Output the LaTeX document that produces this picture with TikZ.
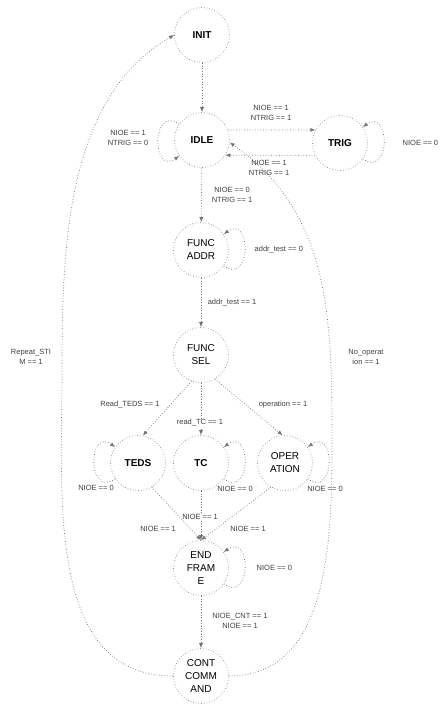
\documentclass[tikz,border=0pt]{standalone}
\usepackage{fontspec}
\setmainfont{Liberation Sans}
\usetikzlibrary{arrows.meta}

\begin{document}
\begin{tikzpicture}[x=1pt,y=1pt,
  state/.style={circle,draw=black!45,dotted,line width=0.7pt,minimum size=55pt,inner sep=0pt,align=center,font=\fontsize{10}{13}\selectfont},
  trans/.style={draw=black!55,dotted,line width=0.7pt,-{Latex[length=5pt,width=4pt]}},
  selfloop/.style={loop,looseness=1,min distance=34pt},
  lbl/.style={align=center,inner sep=0.5pt,text=black!75,font=\fontsize{7.5}{10}\selectfont}]
  \useasboundingbox (0,0) rectangle (441,-704);
  % states
  \node[state] (init) at (202,-35) {\textbf{INIT}};
  \node[state] (idle) at (202,-140) {\textbf{IDLE}};
  \node[state] (trig) at (340,-143) {\textbf{TRIG}};
  \node[state] (addr) at (201,-250) {FUNC\\ADDR};
  \node[state] (fsel) at (201,-355) {FUNC\\SEL};
  \node[state] (teds) at (138,-463) {\textbf{TEDS}};
  \node[state] (tc) at (201,-463) {\textbf{TC}};
  \node[state] (oper) at (285,-463) {OPER\\ATION};
  \node[state] (endf) at (201,-568) {END\\FRAM\\E};
  \node[state] (cont) at (201,-676) {CONT\\COMM\\AND};
  \coordinate (lbend) at (62,-370);
  \coordinate (rbend) at (332,-440);
  % transitions
  \draw[trans] (init) -- (idle);
  \draw[trans] (idle.21) -- (trig.152);
  \draw[trans] (trig.206) -- (idle.-33);
  \path (idle) edge[trans,selfloop,out=145,in=-145] (idle);
  \path (trig) edge[trans,selfloop,out=-35,in=35] (trig);
  \draw[trans] (idle) -- (addr);
  \path (addr) edge[trans,selfloop,out=-35,in=35] (addr);
  \draw[trans] (addr) -- (fsel);
  \draw[trans] (fsel.250) -- (teds.80);
  \draw[trans] (fsel) -- (tc);
  \draw[trans] (fsel.300) -- (oper.95);
  \path (teds) edge[trans,selfloop,out=-145,in=145] (teds);
  \path (tc) edge[trans,selfloop,out=-35,in=35] (tc);
  \path (oper) edge[trans,selfloop,out=-35,in=35] (oper);
  \draw[trans] (teds.-60) -- (endf.north);
  \draw[trans] (tc) -- (endf);
  \draw[trans] (oper.-120) -- (endf.north);
  \path (endf) edge[trans,selfloop,out=-35,in=35] (endf);
  \draw[trans] (endf) -- (cont);
  \draw[trans] (cont.west) to[out=180,in=-90] (lbend) to[out=90,in=210,looseness=0.9] (init.west);
  \draw[trans] (cont.east) to[out=0,in=-90] (rbend) to[out=90,in=-35] (idle.-5);
  % labels
  \node[lbl] (l1) at (271,-113) {NIOE == 1\\NTRIG == 1};
  \node[lbl] (l2) at (269,-168) {NIOE == 1\\NTRIG == 1};
  \node[lbl] (l3) at (128,-138) {NIOE == 1\\NTRIG == 0};
  \node[lbl,anchor=west] (l4) at (402,-143) {NIOE == 0};
  \node[lbl] (l5) at (232,-195) {NIOE == 0\\NTRIG == 1};
  \node[lbl,anchor=west] (l6) at (254,-250) {addr\_test == 0};
  \node[lbl] (l7) at (232,-303) {addr\_test == 1};
  \node[lbl] (l8) at (31,-357) {Repeat\_STI\\M == 1};
  \node[lbl] (l9) at (366,-357) {No\_operat\\ion == 1};
  \node[lbl] (l10) at (130,-405) {Read\_TEDS == 1};
  \node[lbl,fill=white] (l11) at (200,-423) {read\_TC == 1};
  \node[lbl] (l12) at (283,-405) {operation == 1};
  \node[lbl] (l13) at (96,-488) {NIOE == 0};
  \node[lbl] (l14) at (235,-489) {NIOE == 0};
  \node[lbl] (l15) at (325,-489) {NIOE == 0};
  \node[lbl] (l16) at (158,-529) {NIOE == 1};
  \node[lbl,fill=white] (l17) at (200,-517) {NIOE == 1};
  \node[lbl] (l18) at (248,-529) {NIOE == 1};
  \node[lbl,anchor=west] (l19) at (256,-568) {NIOE == 0};
  \node[lbl] (l20) at (240,-621) {NIOE\_CNT == 1\\NIOE == 1};
\end{tikzpicture}
\end{document}
